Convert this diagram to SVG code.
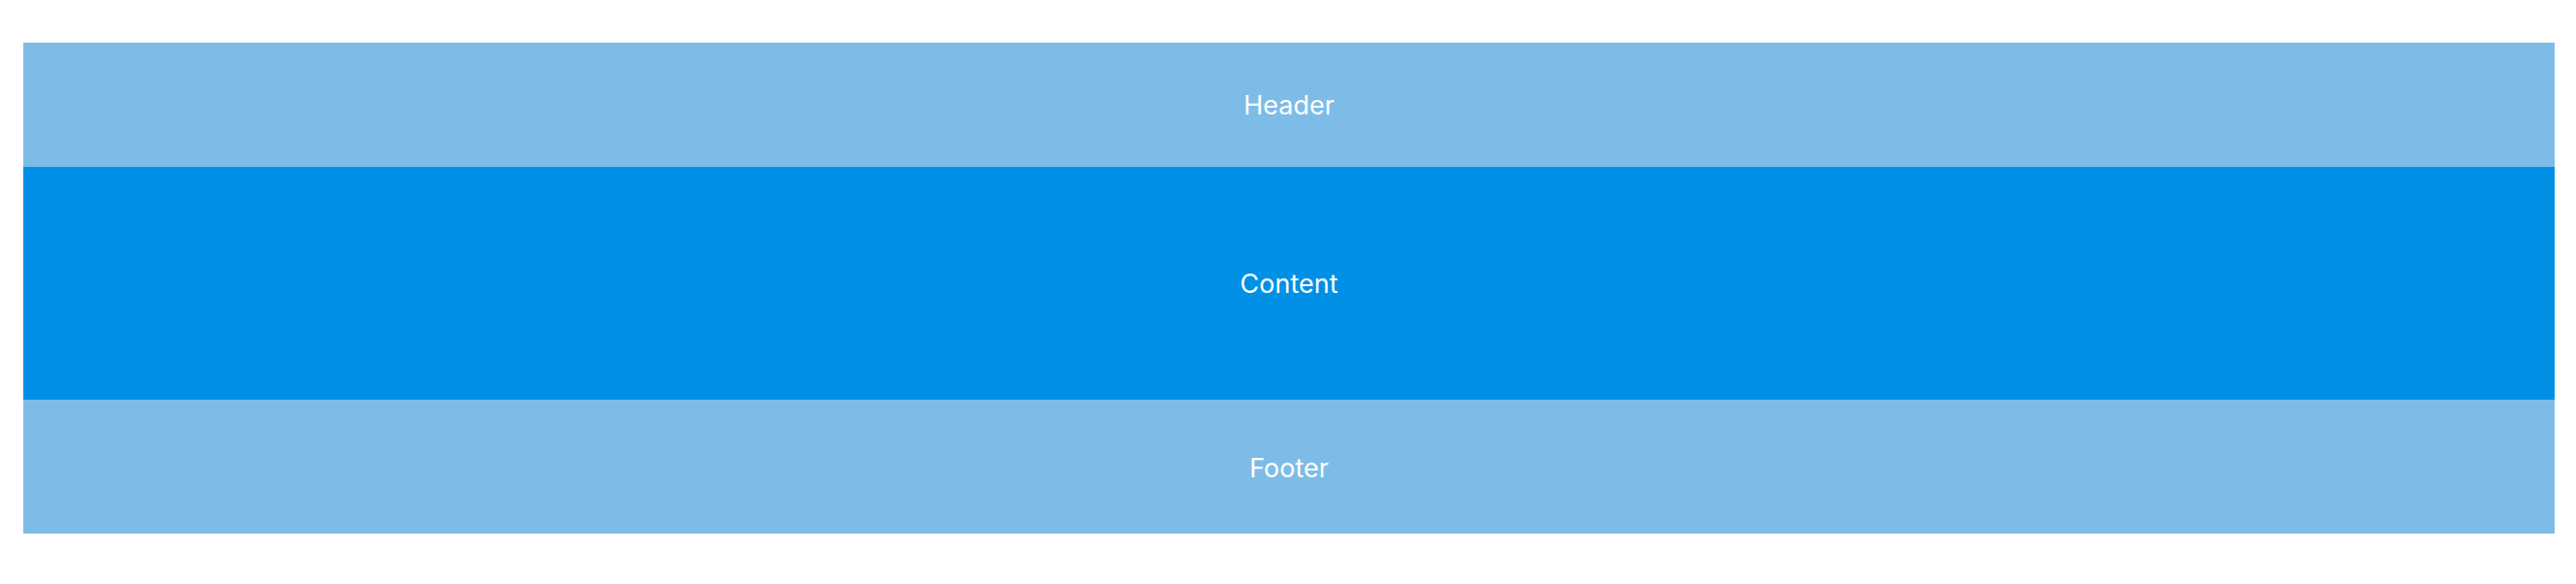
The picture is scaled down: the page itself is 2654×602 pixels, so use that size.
<svg xmlns="http://www.w3.org/2000/svg" width="2654" height="602" viewBox="0 0 2654 602">
<style>
.light{fill:#7dbce7}
.dark{fill:#0090e6}
.lbl{font-family:Inter,"Liberation Sans",sans-serif;font-size:27px;fill:#ffffff;text-anchor:middle;dominant-baseline:central}
</style>
<rect width="2654" height="602" fill="#ffffff"/>
<g id="header"><rect class="light" x="24" y="44" width="2608" height="128"/><text class="lbl" x="1328" y="108">Header</text></g>
<g id="content"><rect class="dark" x="24" y="172" width="2608" height="240"/><text class="lbl" x="1328" y="292">Content</text></g>
<g id="footer"><rect class="light" x="24" y="412" width="2608" height="138"/><text class="lbl" x="1328" y="482">Footer</text></g>
<g id="connectors"></g>
</svg>
